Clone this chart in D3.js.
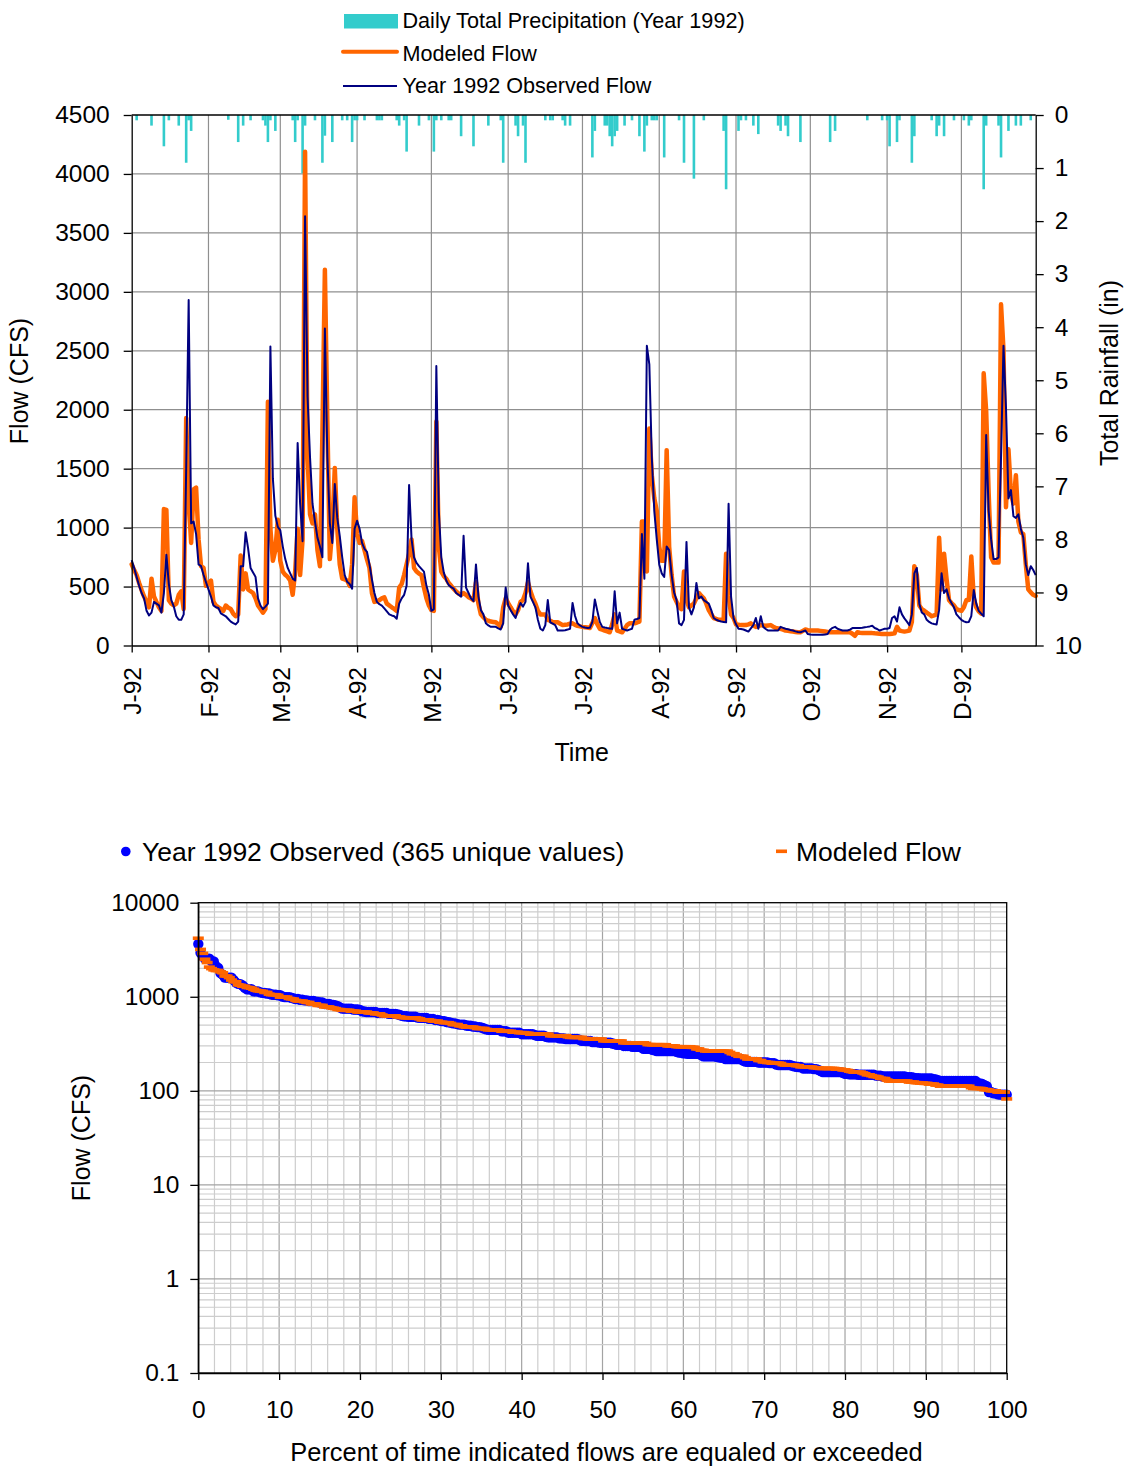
<!DOCTYPE html>
<html><head><meta charset="utf-8">
<script src="https://cdn.jsdelivr.net/npm/d3@7"></script>
<style>
body{margin:0;background:#fff;}
svg{display:block;font-family:"Liberation Sans",Arial,Helvetica,sans-serif;}
</style></head><body>
<svg id="c" width="1124" height="1469"></svg>
<script>
// ---------- DATA (daily values, 1 Jan 1992 .. 31 Dec 1992) ----------
const observedFlow = [
// Jan
724,658,580,506,445,400,294,255,279,370,355,340,279,445,770,521,385,330,248,218,218,264,1500,2930,1036,1051,945,688,673,600,536,
// Feb
476,415,339,325,318,273,260,248,225,203,190,179,203,673,673,960,824,658,620,582,400,339,309,330,355,2536,1415,1100,1006,
// Mar
976,839,733,658,612,567,551,1718,1203,885,3642,2112,1597,1203,1051,915,839,748,2688,1597,1036,870,1370,1082,930,748,597,540,521,482,991,
// Apr
1058,991,870,820,794,688,560,445,370,350,339,315,290,264,255,248,227,355,400,430,506,1361,900,748,700,673,650,627,506,430,
// May
294,309,2370,1142,748,620,551,512,495,482,445,430,415,930,491,445,400,376,688,415,300,264,188,170,158,158,158,145,136,188,491,
// Jun
340,300,264,233,309,361,330,370,697,415,370,324,218,142,127,173,385,197,185,173,127,127,127,130,135,142,361,250,188,170,
// Jul
158,152,148,150,200,391,294,200,158,152,148,145,142,460,188,279,142,135,127,135,142,218,225,233,945,567,2542,2385,1597,1142,900,
// Aug
688,612,582,839,809,597,450,385,188,173,218,879,324,264,324,530,400,415,385,370,355,300,233,218,210,203,200,197,1203,415,233,
// Sep
180,142,140,136,127,118,145,173,233,142,248,158,140,127,127,127,127,127,158,150,142,138,132,127,120,115,112,120,127,97,
// Oct
94,92,91,91,91,91,94,97,133,150,158,142,135,127,127,127,135,148,148,148,148,150,155,158,162,167,148,140,127,135,142,
// Nov
142,148,233,248,203,324,264,230,203,173,264,612,658,355,280,264,218,200,188,182,179,300,612,445,476,400,360,324,264,240,
// Dec
218,205,197,200,250,470,355,294,270,248,1785,1142,900,733,733,748,1597,2542,2021,1248,1318,1097,1082,1112,991,915,688,597,673,640,597
];
const modeledFlow = [
// Jan
688,640,597,530,470,415,370,324,567,415,370,324,294,1157,1150,385,355,340,355,430,460,309,1930,1233,870,1324,1339,900,673,658,506,
// Feb
530,551,370,340,324,310,294,339,320,309,270,248,264,764,476,612,476,460,445,400,340,309,279,309,2067,991,718,809,1066,
// Mar
718,627,600,582,551,430,627,991,597,900,4188,1597,1112,1036,1112,809,673,1800,3188,1900,733,991,1506,991,688,567,560,551,506,688,1257,
// Apr
950,870,885,809,730,658,445,370,375,385,400,409,355,340,324,310,294,491,521,600,688,779,900,658,627,610,597,491,400,339,
// May
300,294,1900,839,627,590,567,530,506,480,460,440,430,445,430,410,400,385,536,355,264,240,218,210,203,200,197,180,158,324,400,
// Jun
360,324,290,264,300,370,385,445,536,460,400,355,294,264,264,264,218,210,197,197,197,185,173,176,179,185,188,175,167,162,
// Jul
158,155,152,148,190,233,180,142,135,127,120,112,180,264,127,120,112,140,173,188,188,188,195,203,1051,1051,627,1840,1445,1250,1142,
// Aug
839,718,718,1657,839,597,415,370,324,309,627,385,324,340,355,400,445,420,400,355,300,264,233,225,218,218,218,779,420,264,233,
// Sep
179,176,173,173,173,180,188,170,158,165,173,170,167,170,173,160,148,145,142,135,127,124,121,118,115,112,112,124,136,130,
// Oct
127,127,127,127,124,121,118,115,112,112,112,112,112,112,112,112,112,100,82,112,108,106,106,106,106,105,103,102,100,97,97,
// Nov
97,97,100,103,158,127,122,118,122,127,200,673,597,340,309,295,279,265,248,256,264,915,476,779,567,385,360,340,309,300,
// Dec
294,324,385,385,755,400,324,290,270,2309,1991,1294,748,703,703,703,2894,2506,1173,1664,1294,1203,1445,1051,960,945,688,476,450,430,420
];
// rainfall: day of year (0 = 1 Jan) and inches
const rainDay = [2,8,13,15,19,22,23,24,39,43,45,48,53,54,55,56,58,65,66,67,69,70,74,77,78,81,85,87,89,90,91,94,99,100,101,107,108,110,111,116,120,122,123,125,128,129,133,138,144,149,150,155,156,158,159,167,169,170,174,175,177,186,187,191,192,193,194,195,196,199,202,205,207,208,210,211,212,215,221,223,227,231,239,240,245,246,248,251,253,261,262,264,265,270,282,284,297,303,305,306,309,310,315,316,323,325,326,328,332,336,338,339,344,345,350,351,354,357,359,363];
const rainInches = [0.1,0.2,0.59,0.1,0.2,0.9,0.1,0.3,0.09,0.51,0.2,0.1,0.1,0.2,0.51,0.1,0.3,0.1,0.51,0.1,1.1,0.2,0.1,0.9,0.39,0.51,0.1,0.1,0.51,0.1,0.1,0.1,0.1,0.1,0.1,0.1,0.2,0.1,0.69,0.2,0.1,0.69,0.1,0.1,0.1,0.1,0.4,0.59,0.2,0.1,0.9,0.2,0.4,0.2,0.9,0.1,0.1,0.1,0.1,0.2,0.2,0.8,0.3,0.2,0.2,0.4,0.59,0.4,0.3,0.2,0.1,0.4,0.69,0.2,0.1,0.1,0.1,0.8,0.1,0.9,1.2,0.1,0.3,1.4,0.3,0.1,0.1,0.2,0.36,0.2,0.3,0.2,0.4,0.51,0.51,0.3,0.1,0.1,0.1,0.59,0.51,0.1,0.9,0.4,0.1,0.4,0.2,0.4,0.1,0.1,0.2,0.1,1.4,0.2,0.2,0.8,0.3,0.2,0.2,0.1];
const monthLabels = ["J-92","F-92","M-92","A-92","M-92","J-92","J-92","A-92","S-92","O-92","N-92","D-92"];
const flowTicks = [0,500,1000,1500,2000,2500,3000,3500,4000,4500];
const rainTicks = [0,1,2,3,4,5,6,7,8,9,10];
const durationFlowTicks = [0.1,1,10,100,1000,10000];
const percentTicks = [0,10,20,30,40,50,60,70,80,90,100];

// ---------- COMMON ----------
const svg = d3.select('#c');
const FONT = '"Liberation Sans",Arial,Helvetica,sans-serif';
const ORANGE = '#FF6600', NAVY = '#000080', TEAL = '#33CCCC', BLUE = '#0000FF';
const DAY = 864e5, t0 = Date.UTC(1992,0,1);
const dates = observedFlow.map((_, i) => new Date(t0 + i * DAY));
const monthStarts = d3.range(12).map(m => new Date(Date.UTC(1992, m, 1)));

// ---------- TOP CHART ----------
const L = 131.7, R = 1035.7, T = 115, B = 645.5;
const x = d3.scaleUtc().domain([dates[0], dates[dates.length - 1]]).range([L, R]);
const y = d3.scaleLinear().domain([0, 4500]).range([B, T]);
const yR = d3.scaleLinear().domain([0, 10]).range([T, B]);

const g1 = svg.append('g');
// gridlines
g1.append('g').selectAll('line.h').data(flowTicks.filter(v => v > 0 && v < 4500)).join('line')
  .attr('x1', L).attr('x2', R).attr('y1', d => y(d)).attr('y2', d => y(d))
  .attr('stroke', '#8f8f8f').attr('stroke-width', 1.2);
g1.append('g').selectAll('line.v').data(monthStarts.slice(1)).join('line')
  .attr('x1', d => x(d)).attr('x2', d => x(d)).attr('y1', T).attr('y2', B)
  .attr('stroke', '#8f8f8f').attr('stroke-width', 1.2);

// rain bars (hanging from top, secondary reversed axis)
g1.append('g').selectAll('rect').data(rainDay.map((d, i) => ({d, v: rainInches[i]}))).join('rect')
  .attr('x', r => x(dates[r.d]) - 1.3).attr('width', 2.6)
  .attr('y', T).attr('height', r => yR(r.v) - T)
  .attr('fill', TEAL);

// lines
const line = d3.line().x((d, i) => x(dates[i])).y(d => y(d));
g1.append('path').datum(modeledFlow).attr('d', line)
  .attr('fill', 'none').attr('stroke', ORANGE).attr('stroke-width', 4.5)
  .attr('stroke-linejoin', 'round').attr('stroke-linecap', 'round');
g1.append('path').datum(observedFlow).attr('d', line)
  .attr('fill', 'none').attr('stroke', NAVY).attr('stroke-width', 2)
  .attr('stroke-linejoin', 'round');

// top border
g1.append('line').attr('x1', L).attr('x2', R).attr('y1', T).attr('y2', T)
  .attr('stroke', '#000').attr('stroke-width', 1.3);

function styleAxis(sel, size) {
  sel.selectAll('path.domain').attr('stroke', '#000').attr('stroke-width', 1.3);
  sel.selectAll('.tick line').attr('stroke', '#000').attr('stroke-width', 1.3);
  sel.selectAll('text').attr('font-family', FONT).attr('font-size', size).attr('fill', '#000');
}
const axL = g1.append('g').attr('transform', `translate(${L},0)`)
  .call(d3.axisLeft(y).tickValues(flowTicks).tickSize(8).tickSizeOuter(0).tickPadding(14).tickFormat(d3.format('d')));
styleAxis(axL, 24.5);
const axR = g1.append('g').attr('transform', `translate(${R},0)`)
  .call(d3.axisRight(yR).tickValues(rainTicks).tickSize(8).tickSizeOuter(0).tickPadding(11).tickFormat(d3.format('d')));
styleAxis(axR, 24.5);
const axB = g1.append('g').attr('transform', `translate(0,${B})`)
  .call(d3.axisBottom(x).tickValues(monthStarts).tickSize(7).tickSizeOuter(0).tickFormat((d, i) => monthLabels[i]));
styleAxis(axB, 24.5);
axB.selectAll('text').attr('transform', 'rotate(-90)').attr('text-anchor', 'end')
  .attr('x', -21.5).attr('y', 0).attr('dy', '0.36em');

// titles
svg.append('text').attr('transform', 'translate(28,381) rotate(-90)').attr('text-anchor', 'middle')
  .attr('font-family', FONT).attr('font-size', 25).text('Flow (CFS)');
svg.append('text').attr('transform', 'translate(1118,373) rotate(-90)').attr('text-anchor', 'middle')
  .attr('font-family', FONT).attr('font-size', 25).text('Total Rainfall (in)');
svg.append('text').attr('x', (L + R) / 2 - 2).attr('y', 761).attr('text-anchor', 'middle')
  .attr('font-family', FONT).attr('font-size', 25).text('Time');

// legend (top)
const lg = svg.append('g').attr('font-family', FONT).attr('font-size', 21.6);
lg.append('rect').attr('x', 344).attr('y', 14).attr('width', 54).attr('height', 14.5).attr('fill', TEAL);
lg.append('text').attr('x', 402.5).attr('y', 28.3).text('Daily Total Precipitation (Year 1992)');
lg.append('line').attr('x1', 343).attr('x2', 397).attr('y1', 51.7).attr('y2', 51.7)
  .attr('stroke', ORANGE).attr('stroke-width', 4).attr('stroke-linecap', 'round');
lg.append('text').attr('x', 402.5).attr('y', 61).text('Modeled Flow');
lg.append('line').attr('x1', 343).attr('x2', 397).attr('y1', 86).attr('y2', 86)
  .attr('stroke', NAVY).attr('stroke-width', 2);
lg.append('text').attr('x', 402.5).attr('y', 93).text('Year 1992 Observed Flow');

// ---------- BOTTOM CHART (flow duration) ----------
const L2 = 198.3, R2 = 1006.7, T2 = 902.7, B2 = 1373;
const x2 = d3.scaleLinear().domain([0, 100]).range([L2, R2]);
const y2 = d3.scaleLog().domain([0.1, 10000]).range([B2, T2]);
const g2 = svg.append('g');

// gridlines
const minorV = d3.range(2, 100, 2);
g2.append('g').selectAll('line').data(minorV).join('line')
  .attr('x1', d => x2(d)).attr('x2', d => x2(d)).attr('y1', T2).attr('y2', B2)
  .attr('stroke', d => d % 10 === 0 ? '#a3a3a3' : '#cdcdcd').attr('stroke-width', 1.2);
const hVals = [];
for (let k = -1; k <= 3; k++) for (let m = 1; m <= 9; m++) hVals.push({v: m * Math.pow(10, k), major: m === 1});
g2.append('g').selectAll('line').data(hVals.filter(h => h.v > 0.1 + 1e-9)).join('line')
  .attr('x1', L2).attr('x2', R2).attr('y1', d => y2(d.v)).attr('y2', d => y2(d.v))
  .attr('stroke', d => d.major ? '#a3a3a3' : '#cdcdcd').attr('stroke-width', 1.2);

// points
const obsSorted = observedFlow.slice().sort((a, b) => b - a);
const modSorted = modeledFlow.slice().sort((a, b) => b - a);
const pct = (i, n) => i / (n - 1) * 100;
g2.append('g').selectAll('circle').data(obsSorted).join('circle')
  .attr('cx', (d, i) => x2(pct(i, obsSorted.length))).attr('cy', d => y2(d))
  .attr('r', 5.2).attr('fill', BLUE);
g2.append('g').selectAll('rect').data(modSorted).join('rect')
  .attr('x', (d, i) => x2(pct(i, modSorted.length)) - 5.5).attr('y', d => y2(d) - 1.8)
  .attr('width', 11).attr('height', 3.6).attr('fill', ORANGE);

// frame
g2.append('rect').attr('x', L2).attr('y', T2).attr('width', R2 - L2).attr('height', B2 - T2)
  .attr('fill', 'none').attr('stroke', '#000').attr('stroke-width', 1.3);
const ax2L = g2.append('g').attr('transform', `translate(${L2},0)`)
  .call(d3.axisLeft(y2).tickValues(durationFlowTicks).tickSize(8).tickSizeOuter(0).tickPadding(11)
    .tickFormat(d => d < 1 ? d3.format('.1f')(d) : d3.format('d')(d)));
styleAxis(ax2L, 24.5);
const ax2B = g2.append('g').attr('transform', `translate(0,${B2})`)
  .call(d3.axisBottom(x2).tickValues(percentTicks).tickSize(7).tickSizeOuter(0).tickPadding(21).tickFormat(d3.format('d')));
styleAxis(ax2B, 24.5);

svg.append('text').attr('transform', 'translate(90,1138) rotate(-90)').attr('text-anchor', 'middle')
  .attr('font-family', FONT).attr('font-size', 25).text('Flow (CFS)');
svg.append('text').attr('x', 606.5).attr('y', 1461).attr('text-anchor', 'middle')
  .attr('font-family', FONT).attr('font-size', 25.4).text('Percent of time indicated flows are equaled or exceeded');

// legend (bottom)
const lg2 = svg.append('g').attr('font-family', FONT).attr('font-size', 26.5);
lg2.append('circle').attr('cx', 125.8).attr('cy', 851.5).attr('r', 4.8).attr('fill', BLUE);
lg2.append('text').attr('x', 142).attr('y', 860.5).text('Year 1992 Observed (365 unique values)');
lg2.append('rect').attr('x', 776).attr('y', 849.5).attr('width', 11).attr('height', 3.6).attr('fill', ORANGE);
lg2.append('text').attr('x', 796).attr('y', 860.5).text('Modeled Flow');
</script>
</body></html>
